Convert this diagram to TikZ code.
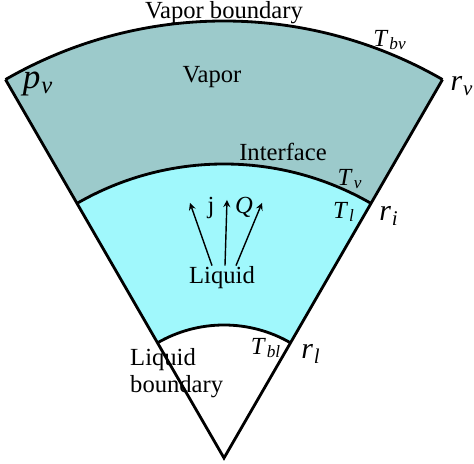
\documentclass[tikz,border=0pt]{standalone}
\usepackage{fontspec}
\setmainfont{Liberation Serif}
\usepackage{xcolor}
\usepackage{tikz}

\definecolor{vaporcol}{HTML}{9CCACB}
\definecolor{liquidcol}{HTML}{A0F8FC}

\newcommand{\subvar}[2]{\textit{#1}\kern0.5pt\textsubscript{\textit{#2}}}

\tikzset{
  wall/.style={black, line width=1.6pt},
  lbl/.style={inner sep=0.5pt, font=\fontsize{14}{15.5}\selectfont},
  flux/.style={->, line width=0.8pt, >=stealth}
}

\begin{document}
\begin{tikzpicture}
                \useasboundingbox (-4.48,-0.12) rectangle (5.0,9.16);

                %% regions
                \fill[vaporcol] (60:8.74) arc[start angle=60, end angle=120, radius=8.74]
                        -- (120:5.88) arc[start angle=120, end angle=60, radius=5.88] -- cycle;
                \fill[liquidcol] (60:5.88) arc[start angle=60, end angle=120, radius=5.88]
                        -- (120:2.66) arc[start angle=120, end angle=60, radius=2.66] -- cycle;

                %% walls
                \coordinate (apex) at (0,0);
                \coordinate (outerL) at (120:8.74);
                \coordinate (outerR) at (60:8.74);
                \draw[wall] (outerL) -- (apex) -- (outerR);
                \draw[wall] (outerR) arc[start angle=60, end angle=120, radius=8.74];
                \draw[wall] (60:5.88) arc[start angle=60, end angle=120, radius=5.88];
                \draw[wall] (60:2.66) arc[start angle=60, end angle=120, radius=2.66];

                %Vapor
                \node[lbl] (vboundary) at (0,8.9) {Vapor boundary};
                \node[lbl] (vapor) at (-0.24,7.62) {Vapor};
                \node[lbl] (tbv) at (3.32,8.36) {\subvar{T}{bv}};
                \node[lbl, font=\fontsize{20}{22}\selectfont] (pv) at (-3.72,7.48) {\subvar{p}{v}};
                \node[lbl, font=\fontsize{17}{19}\selectfont] (rv) at (4.76,7.44) {\subvar{r}{v}};

                %Interface
                \node[lbl] (interface) at (1.18,6.12) {Interface};
                \node[lbl] (tv) at (2.52,5.58) {\subvar{T}{v}};
                \node[lbl] (tl) at (2.4,4.92) {\subvar{T}{l}};
                \node[lbl, font=\fontsize{17}{19}\selectfont] (ri) at (3.3,4.84) {\subvar{r}{i}};

                %Liquid
                \node[lbl] (liquid) at (-0.04,3.6) {Liquid};
                \coordinate (jtip) at (-0.68,5.1);
                \coordinate (ctip) at (0.06,5.16);
                \coordinate (qtip) at (0.76,5.1);
                \draw[flux] ([xshift=-0.2cm]liquid.north) -- (jtip);
                \draw[flux] ([xshift=0.06cm]liquid.north) -- (ctip);
                \draw[flux] ([xshift=0.28cm]liquid.north) -- (qtip);
                \node[lbl] (jlbl) at (-0.26,5.0) {j};
                \node[lbl] (qlbl) at (0.4,5.02) {\textit{Q}};

                %Liquid boundary
                \node[lbl] (tbl) at (0.84,2.2) {\subvar{T}{bl}};
                \node[lbl, font=\fontsize{17}{19}\selectfont] (rl) at (1.74,2.08) {\subvar{r}{l}};
                \node[lbl, align=left, anchor=west] (lboundary) at (-1.9,1.7) {Liquid\\boundary};

            \end{tikzpicture}
\end{document}
